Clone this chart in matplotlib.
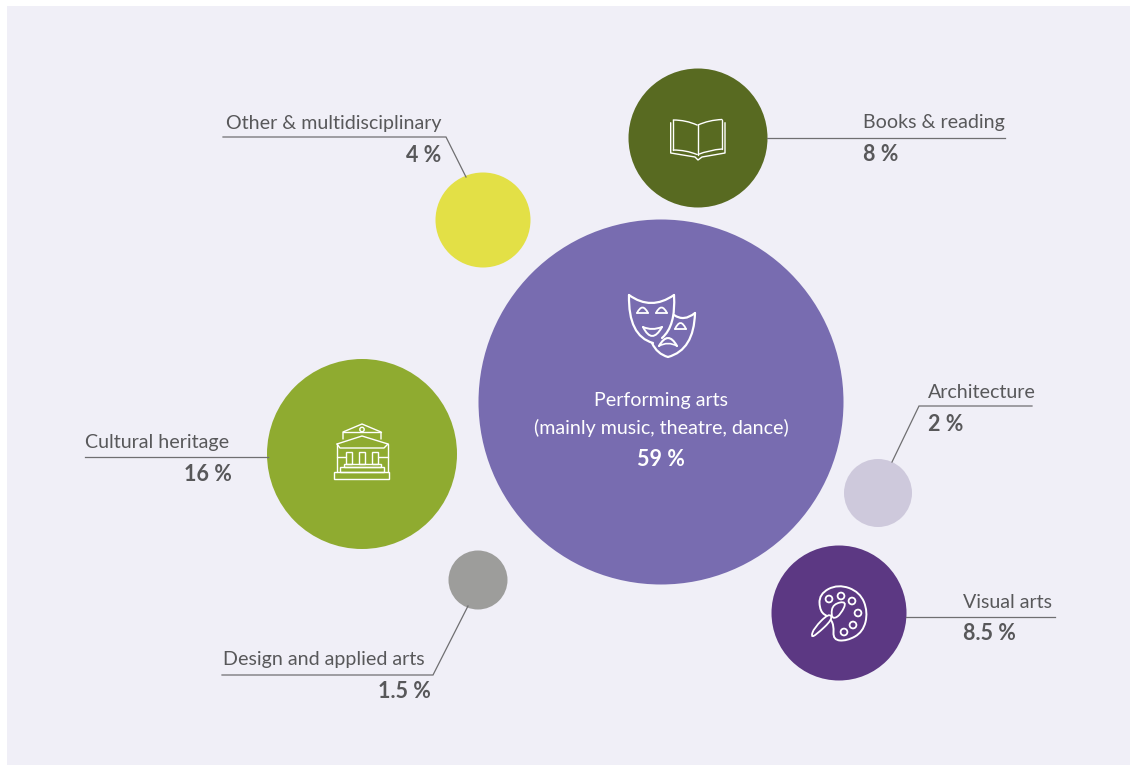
import numpy as np
import matplotlib
matplotlib.use('Agg')
import matplotlib.pyplot as plt
from matplotlib.patches import Circle, Rectangle, PathPatch
from matplotlib.path import Path

plt.rcParams['font.family'] = ['Lato', 'DejaVu Sans']

# data
labels = ['Performing arts\n(mainly music, theatre, dance)', 'Cultural heritage', 'Visual arts',
          'Books & reading', 'Other & multidisciplinary', 'Architecture', 'Design and applied arts']
shares = ['59 %', '16 %', '8.5 %', '8 %', '4 %', '2 %', '1.5 %']
colors = ['#786cb0', '#8fab30', '#5c3883', '#586a21', '#e3e046', '#cec9dc', '#9d9d9b']

# layout, in pixels of the picture
centers = [(661, 402), (362, 454), (839, 613), (698, 138), (483, 220), (878, 493), (478, 580)]
radii = [182.5, 95, 67.5, 69.5, 47.5, 34, 29.5]
leaders = [None,
           [(85, 457), (268, 457)],
           [(906, 617), (1055, 617)],
           [(767, 138), (1005, 138)],
           [(223, 137), (446, 137), (466, 177)],
           [(1032, 406), (919, 406), (892, 462)],
           [(222, 675), (433, 675), (468, 606)]]
# x, y of the label, x, y of the share, alignment of label and share
label_pos = [None,
             (85, 442, 232, 474, 'left', 'right'),
             (963, 602, 963, 633, 'left', 'left'),
             (863, 122, 863, 154, 'left', 'left'),
             (441, 123, 441, 155, 'right', 'right'),
             (928, 392, 928, 424, 'left', 'left'),
             (223, 660, 431, 692, 'left', 'right')]

TXT = '#58585a'
W = '#ffffff'
LABEL_SIZE = 14.1
SHARE_SIZE = 15.5

fig = plt.figure(figsize=(11.36, 7.65), dpi=100)
ax = fig.add_axes([0, 0, 1, 1])
ax.set_xlim(0, 1136)
ax.set_ylim(765, 0)
ax.axis('off')
ax.add_patch(Rectangle((7, 6), 1123, 759, fc='#f0eff7', ec='none'))

for c, r, col in zip(centers, radii, colors):
    ax.add_patch(Circle(c, r, fc=col, ec='none'))

for line in leaders:
    if line:
        xs, ys = zip(*line)
        ax.plot(xs, ys, color='#6f6f71', lw=0.9, solid_joinstyle='miter')

for i in range(1, len(labels)):
    x, y, sx, sy, ha, sha = label_pos[i]
    ax.text(x, y, labels[i], fontsize=LABEL_SIZE, color=TXT, ha=ha, va='center')
    ax.text(sx, sy, shares[i], fontsize=SHARE_SIZE, fontweight='bold', color=TXT, ha=sha, va='center')

ax.text(661, 400, labels[0].split('\n')[0], fontsize=LABEL_SIZE, color=W, ha='center', va='center')
ax.text(661, 428, labels[0].split('\n')[1], fontsize=LABEL_SIZE, color=W, ha='center', va='center')
ax.text(661, 459, shares[0], fontsize=SHARE_SIZE, fontweight='bold', color=W, ha='center', va='center')


def stroke(pts, lw=1.3, closed=False, col=W):
    pts = list(pts)
    if closed:
        pts.append(pts[0])
    xs, ys = zip(*pts)
    ax.plot(xs, ys, color=col, lw=lw, solid_joinstyle='round', solid_capstyle='round')


def smooth(pts, lw=1.3, fc='none'):
    # closed quadratic curve through the midpoints of the control points
    p = np.array(pts, dtype=float)
    mids = (p + np.roll(p, -1, axis=0)) / 2
    verts = [mids[-1]]
    codes = [Path.MOVETO]
    for i in range(len(p)):
        verts += [p[i], mids[i]]
        codes += [Path.CURVE3, Path.CURVE3]
    ax.add_patch(PathPatch(Path(verts, codes), fc=fc, ec=W, lw=lw))


def curve(a, ctrl, b, lw=1.3):
    ax.add_patch(PathPatch(Path([a, ctrl, b], [Path.MOVETO, Path.CURVE3, Path.CURVE3]),
                           fc='none', ec=W, lw=lw, capstyle='round'))


# masks
curve((629, 295), (651, 311), (674, 295), 1.6)
curve((629, 295), (628, 336), (653, 343), 1.6)
curve((674, 295), (676, 326), (662, 338), 1.6)
curve((674, 315), (684, 322), (695, 313), 1.6)
curve((695, 313), (694, 350), (668, 357), 1.6)
curve((668, 357), (657, 354), (652, 343), 1.6)
for x0, x1, yb, top in [(637, 648, 313, 302), (656, 667, 313, 302), (675, 686, 329, 317)]:
    curve((x0, yb), ((x0 + x1) / 2, top), (x1, yb), 1.3)
    stroke([(x0, yb), (x1, yb)], 1.3)
curve((643, 327), (652, 345), (662, 327), 1.4)
curve((643, 327), (652, 331), (662, 327), 1.4)
curve((659, 346), (668, 330), (677, 346), 1.5)
curve((659, 346), (668, 341), (677, 346), 1.2)

# temple
T = 1.0
for x0, y0, x1, y1 in [(334, 472, 389, 479), (340, 467, 384, 472), (344, 464, 381, 467),
                       (346, 452, 352, 464), (359, 452, 365, 464), (372, 452, 378, 464)]:
    ax.add_patch(Rectangle((x0, y0), x1 - x0, y1 - y0, fc='none', ec=W, lw=T))
stroke([(337, 444), (362, 436), (388, 444)], T)
stroke([(337, 444), (340, 448), (384, 448), (388, 444)], T)
stroke([(343, 439), (343, 432), (362, 424), (381, 432), (381, 439)], T)
stroke([(343, 432), (381, 432)], T)
ax.add_patch(Circle((362, 429.5), 2.2, fc='none', ec=W, lw=T))
stroke([(337, 444), (337, 472)], T)
stroke([(388, 444), (388, 472)], T)
stroke([(337, 457), (346, 457)], T)
stroke([(378, 457), (388, 457)], T)

# palette
smooth([(819, 594), (838, 584), (860, 592), (868, 612), (863, 632), (847, 641),
        (833, 640), (834, 625), (829, 617), (820, 612)], 1.4)
for hx, hy in [(829, 599), (841, 596), (852, 601), (858, 613), (853, 625), (844, 632)]:
    ax.add_patch(Circle((hx, hy), 3.4, fc='none', ec=W, lw=1.3))
smooth([(811, 637), (816, 635), (833, 619), (829, 613), (814, 628)], 1.3, fc='#5c3883')
smooth([(831, 615), (833, 604), (847, 601), (841, 614), (834, 619)], 1.3, fc='#5c3883')

# book
B = 1.0
curve((673.3, 120), (686, 120), (697, 125), B)
curve((698, 125), (709, 120), (722, 119.5), B)
curve((673.3, 150), (686, 150), (697, 154.5), B)
curve((698, 154.5), (709, 150), (722, 149), B)
stroke([(673.3, 120), (673.3, 150)], B)
stroke([(697.5, 125), (697.5, 155)], B)
stroke([(722, 119.5), (722, 149)], B)
stroke([(670.7, 122.7), (670.7, 153), (695, 157), (698, 160), (702, 157), (725, 153), (725, 122.7)], B)

fig.savefig('out.png', dpi=100, facecolor='white')
